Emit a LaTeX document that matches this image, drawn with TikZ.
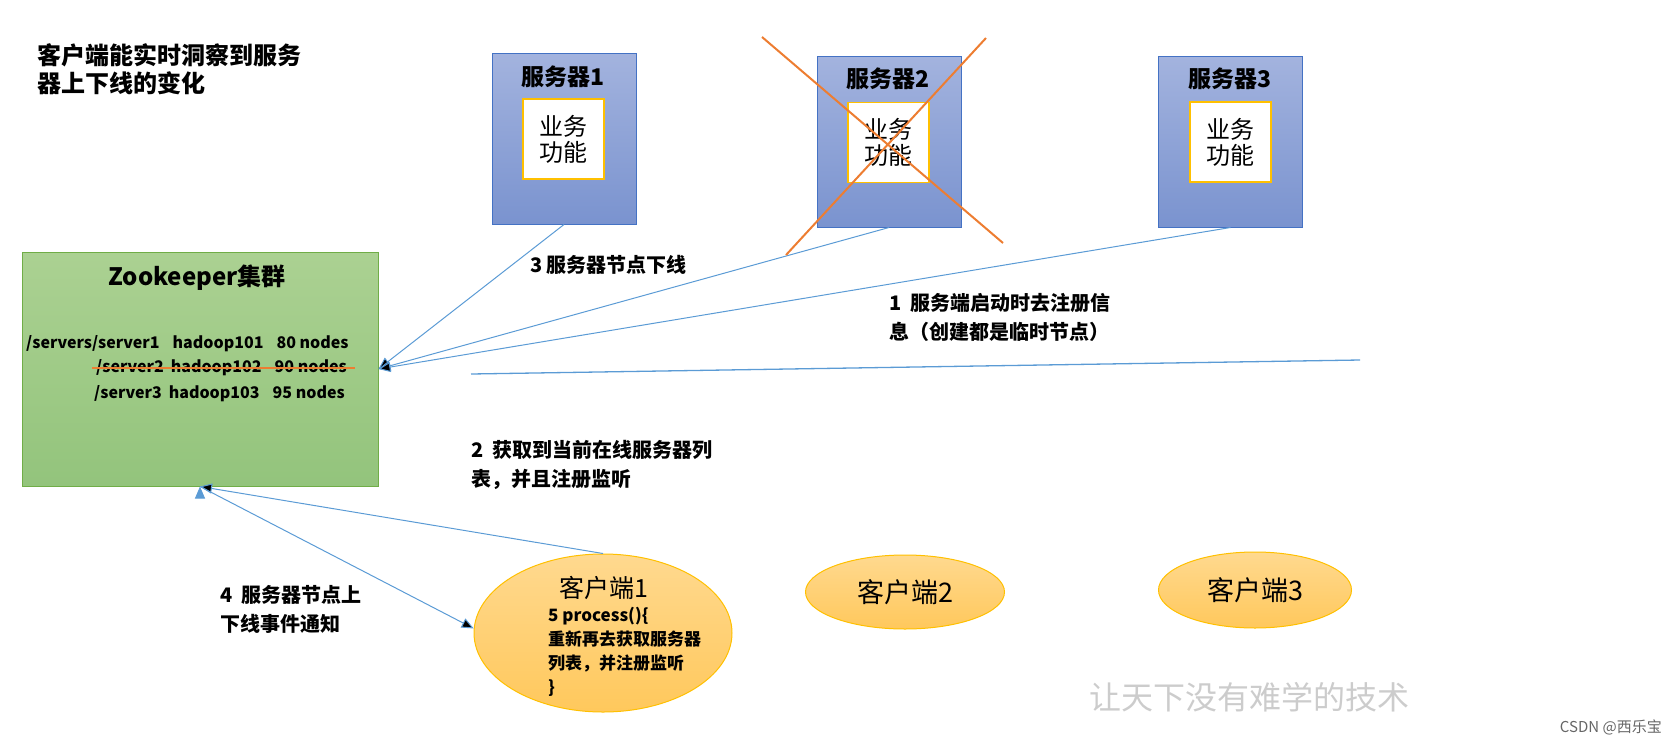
\documentclass[tikz,border=0pt]{standalone}
\usepackage{fontspec}
\setmainfont{Noto Sans CJK SC}
\usepackage{xcolor}
\usepackage{tikz}
\usetikzlibrary{arrows.meta,shapes.geometric}

\definecolor{srvtop}{HTML}{A3B3DE}
\definecolor{srvbot}{HTML}{7A93CF}
\definecolor{srvline}{HTML}{4472C4}
\definecolor{funcgold}{HTML}{FFC000}
\definecolor{zktop}{HTML}{ABD192}
\definecolor{zkbot}{HTML}{93C47C}
\definecolor{zkline}{HTML}{70AD47}
\definecolor{cltop}{HTML}{FFD98F}
\definecolor{clbot}{HTML}{FFC85C}
\definecolor{flowblue}{HTML}{5B9BD5}
\definecolor{crossorange}{HTML}{ED7D31}
\newcommand{\fsz}[2]{\fontsize{#1}{#2}\selectfont}
\newcommand{\gapw}{\hspace{13pt}}
\newcommand{\gapn}{\hspace{7pt}}

\begin{document}
\begin{tikzpicture}[x=1pt,y=-1pt,
	srvbox/.style={draw=srvline,line width=1pt,top color=srvtop,bottom color=srvbot,minimum width=144pt,minimum height=171pt,inner sep=0pt},
	srvtitle/.style={font=\fsz{23}{26}\bfseries,inner sep=0pt},
	funcbox/.style={draw=funcgold,line width=1.6pt,fill=white,minimum width=81pt,minimum height=80pt,inner sep=0pt,align=center,font=\fsz{24}{26}},
	zkbox/.style={draw=zkline,line width=1pt,top color=zktop,bottom color=zkbot,minimum width=356pt,minimum height=234pt,inner sep=0pt},
	client/.style={ellipse,draw=funcgold,line width=1pt,top color=cltop,bottom color=clbot,inner sep=0pt,font=\fsz{27}{30}},
	lbl/.style={anchor=west,align=left,inner sep=0pt,font=\fsz{20}{29}\bfseries},
	zkpath/.style={anchor=west,inner sep=0pt,font=\fsz{16}{20}\bfseries},
	flow/.style={draw=flowblue,line width=1pt,-{Triangle[length=12pt,width=10pt]}},
	xline/.style={draw=crossorange,line width=2pt}
]
	\useasboundingbox (0,0) rectangle (1668,742);
	%
	\node[lbl,font=\fsz{24}{28}\bfseries] (T) at (37,69) {客户端能实时洞察到服务\\器上下线的变化};
	%
	\node[srvbox] (S1) at (564,138.5) {};
	\node[srvbox] (S2) at (889,141.5) {};
	\node[srvbox] (S3) at (1230.5,141.5) {};
	\node[srvtitle] (S1t) at (563,77) {服务器1};
	\node[srvtitle] (S2t) at (888,79) {服务器2};
	\node[srvtitle] (S3t) at (1230,79) {服务器3};
	\node[funcbox] (F1) at (563.5,139) {业务\\功能};
	\node[funcbox] (F2) at (888.5,142.5) {业务\\功能};
	\node[funcbox] (F3) at (1230.5,142) {业务\\功能};
	%
	\node[zkbox] (ZK) at (200,369) {};
	\node[font=\fsz{24}{26}\bfseries,inner sep=0pt] (ZKt) at (197,278) {Zookeeper集群};
	\node[zkpath] (P1) at (26,344) {/servers/server1\gapw hadoop101\gapw 80 nodes};
	\node[zkpath] (P2) at (96,368) {/server2\gapn hadoop102\gapw 90 nodes};
	\node[zkpath] (P3) at (94,394) {/server3\gapn hadoop103\gapw 95 nodes};
	\draw[xline] ([xshift=-4pt]P2.west) -- ([xshift=-24pt]ZK.east |- P2.west);
	%
	\node[client,minimum width=258pt,minimum height=158pt] (C1) at (603,633) {};
	\node[client,minimum width=199pt,minimum height=74pt] (C2) at (905,592) {客户端2};
	\node[client,minimum width=193pt,minimum height=76pt] (C3) at (1255,590) {客户端3};
	\node[font=\fsz{25}{28},inner sep=0pt] (C1t) at (604,588) {客户端1};
	\node[lbl,font=\fsz{17}{24}\bfseries] (C1c) at (548,652) {5 process()\{\\重新再去获取服务器\\列表，并注册监听\\\}};
	%
	\node[lbl] (L3) at (530,265) {3 服务器节点下线};
	\node[lbl] (L1) at (889,317.5) {1~~服务端启动时去注册信\\息（创建都是临时节点）};
	\node[lbl] (L2) at (471,465) {2~~获取到当前在线服务器列\\表，并且注册监听};
	\node[lbl] (L4) at (220,609) {4~~服务器节点上\\下线事件通知};
	%
	\path[flow]
		(S1.south) edge (ZK.east)
		(S2.south) edge (ZK.east)
		(S3.south) edge (ZK.east)
		(C1.north) edge (ZK.south)
		(ZK.south) edge (C1.178);
	\coordinate (R1) at (471,374);
	\coordinate (R2) at (1360,360);
	\draw[flowblue,line width=1.3pt] (R1) -- (R2);
	%
	\coordinate (X1) at (762,37);
	\coordinate (X2) at (1003,243);
	\coordinate (X3) at (986,38);
	\coordinate (X4) at (786,255);
	\draw[xline] (X1) -- (X2) (X3) -- (X4);
	%
	\node[anchor=west,inner sep=0pt,font=\fsz{32}{34},text=black!20] (WM) at (1089,697) {让天下没有难学的技术};
	\node[anchor=east,inner sep=0pt,font=\fsz{15}{18},text=black!60] (CS) at (1662,727) {CSDN @西乐宝};
\end{tikzpicture}
\end{document}
